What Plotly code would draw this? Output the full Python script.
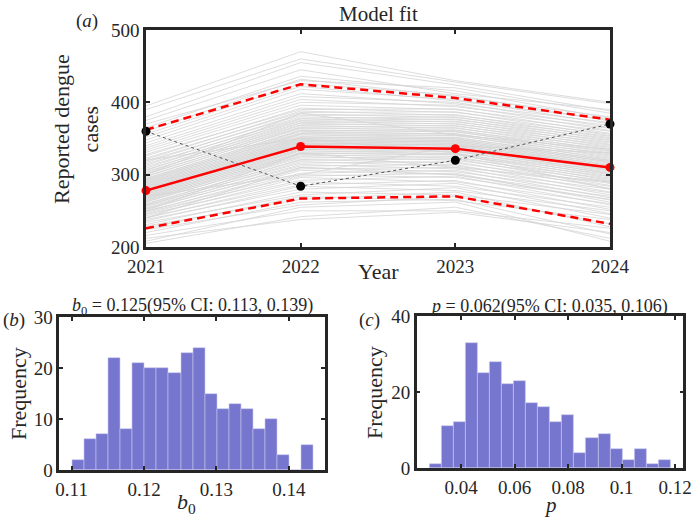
import plotly.graph_objects as go

# ---------------- data ----------------
years = [2021, 2022, 2023, 2024]
observed = [360, 284, 320, 370]
fit_mean = [278, 339, 336, 310]
fit_upper = [362, 425, 406, 376]
fit_lower = [226, 267, 270, 232]

# sample trajectories (grey)
traj_2021 = [205, 212, 208, 216, 220, 224, 226, 229, 231, 234, 236, 238, 240, 241, 243, 245, 246, 248, 249, 250,
             252, 253, 254, 256, 257, 258, 259, 260, 262, 263, 264, 265, 266, 267, 268, 269, 270, 271, 272, 273,
             274, 275, 276, 277, 278, 279, 280, 281, 282, 283, 284, 285, 286, 287, 288, 289, 290, 291, 292, 293,
             294, 295, 297, 298, 300, 301, 303, 304, 306, 307, 309, 311, 313, 315, 317, 319, 321, 323, 326, 328,
             331, 334, 337, 340, 344, 348, 352, 356, 360, 365, 370, 375, 380, 390, 395, 250, 270, 300, 320, 240]
traj_2022 = [242, 238, 255, 250, 262, 258, 270, 266, 276, 272, 284, 280, 290, 286, 296, 292, 300, 298, 306, 302,
             310, 308, 314, 312, 318, 316, 321, 320, 325, 323, 328, 326, 330, 329, 333, 331, 335, 334, 338, 336,
             340, 339, 342, 341, 344, 343, 346, 345, 348, 347, 350, 349, 352, 351, 355, 353, 357, 356, 360, 358,
             362, 361, 365, 364, 368, 366, 371, 369, 374, 372, 377, 375, 380, 378, 384, 382, 388, 386, 392, 390,
             396, 400, 404, 408, 412, 418, 422, 426, 432, 436, 430, 445, 455, 460, 470, 330, 300, 385, 350, 310]
traj_2023 = [255, 248, 262, 250, 266, 270, 264, 276, 272, 282, 278, 288, 284, 292, 290, 298, 296, 302, 300, 306,
             304, 310, 308, 314, 312, 318, 316, 322, 320, 325, 323, 328, 327, 330, 329, 333, 332, 336, 334, 338,
             337, 340, 339, 342, 341, 344, 343, 346, 345, 348, 347, 350, 349, 352, 351, 355, 354, 357, 356, 360,
             359, 362, 361, 365, 364, 368, 367, 371, 370, 374, 373, 377, 376, 380, 379, 383, 382, 387, 386, 391,
             390, 396, 394, 400, 398, 404, 402, 410, 408, 416, 420, 412, 424, 428, 430, 310, 340, 355, 330, 300]
traj_2024 = [212, 220, 208, 226, 218, 232, 238, 228, 245, 240, 250, 246, 255, 252, 260, 258, 266, 262, 270, 268,
             275, 272, 280, 276, 284, 281, 288, 285, 291, 289, 294, 292, 297, 295, 300, 298, 302, 301, 305, 303,
             307, 306, 309, 308, 311, 310, 313, 312, 316, 314, 318, 317, 320, 319, 323, 321, 326, 324, 329, 327,
             332, 330, 335, 333, 338, 336, 341, 339, 344, 342, 347, 345, 350, 348, 353, 351, 356, 354, 360, 357,
             364, 361, 368, 365, 372, 370, 376, 374, 380, 378, 385, 390, 388, 398, 400, 290, 330, 335, 280, 265]

# histogram (b): b0
b0_bin_start = 0.1101
b0_bin_width = 0.001665
b0_counts = [2, 6, 7, 22, 8, 21, 20, 20, 19, 23, 24, 15, 12, 13, 12, 8, 10, 3, 0, 5]
b0_ticks = [0.11, 0.12, 0.13, 0.14]
b0_ticklabels = ["0.11", "0.12", "0.13", "0.14"]

# histogram (c): p
p_bin_start = 0.02815
p_bin_width = 0.00451
p_counts = [1, 11, 12, 33, 25, 28, 22, 23, 17, 16, 12, 14, 4, 8, 9, 5, 2, 5, 1, 2]
p_ticks = [0.04, 0.06, 0.08, 0.1, 0.12]
p_ticklabels = ["0.04", "0.06", "0.08", "0.1", "0.12"]

# ---------------- figure ----------------
W, H = 699, 518
FONT = "Liberation Serif"
AX = "#262626"
BAR = "#7676cf"

fig = go.Figure()

# grey trajectories
for i in range(len(traj_2021)):
    fig.add_trace(go.Scatter(
        x=years, y=[traj_2021[i], traj_2022[i], traj_2023[i], traj_2024[i]],
        mode="lines", line=dict(color="#d4d4d4", width=0.8),
        hoverinfo="skip", showlegend=False, xaxis="x", yaxis="y"))

# confidence bounds
for band in (fit_upper, fit_lower):
    fig.add_trace(go.Scatter(
        x=years, y=band, mode="lines",
        line=dict(color="#ff0000", width=2.5, dash="8px,5px"),
        showlegend=False, xaxis="x", yaxis="y", cliponaxis=False))

# mean fit
fig.add_trace(go.Scatter(
    x=years, y=fit_mean, mode="lines+markers",
    line=dict(color="#ff0000", width=2.5),
    marker=dict(color="#ff0000", size=9),
    showlegend=False, xaxis="x", yaxis="y", cliponaxis=False))

# observed data
fig.add_trace(go.Scatter(
    x=years, y=observed, mode="lines+markers",
    line=dict(color="#555555", width=1, dash="dot"),
    marker=dict(color="#000000", size=9),
    showlegend=False, xaxis="x", yaxis="y", cliponaxis=False))

# histograms
b0_centers = [b0_bin_start + (i + 0.5) * b0_bin_width for i in range(len(b0_counts))]
p_centers = [p_bin_start + (i + 0.5) * p_bin_width for i in range(len(p_counts))]

fig.add_trace(go.Bar(
    x=b0_centers, y=b0_counts, width=b0_bin_width,
    marker=dict(color=BAR, line=dict(color="#c9c9ee", width=0.6)),
    showlegend=False, xaxis="x2", yaxis="y2"))
fig.add_trace(go.Bar(
    x=p_centers, y=p_counts, width=p_bin_width,
    marker=dict(color=BAR, line=dict(color="#c9c9ee", width=0.6)),
    showlegend=False, xaxis="x3", yaxis="y3"))

axis_common = dict(
    showline=True, linecolor=AX, linewidth=2.5, mirror="ticks",
    ticks="inside", ticklen=4, tickwidth=2, tickcolor=AX,
    showgrid=False, zeroline=False, automargin=False,
    tickfont=dict(family=FONT, size=19, color="#262626"),
)

def px_x(p):
    return p / W

def px_y(p):
    return 1 - p / H

fig.update_layout(
    width=W, height=H,
    margin=dict(l=0, r=0, t=0, b=0, pad=0),
    paper_bgcolor="white", plot_bgcolor="white",
    font=dict(family=FONT, color="#262626"),
    bargap=0,
    xaxis=dict(axis_common, domain=[px_x(146), px_x(610)], range=[2021, 2024],
               tickvals=years, ticktext=[str(y) for y in years], anchor="y"),
    yaxis=dict(axis_common, domain=[px_y(247), px_y(30)], range=[200, 500],
               tickvals=[200, 300, 400, 500], anchor="x"),
    xaxis2=dict(axis_common, domain=[px_x(59.3), px_x(325)], range=[0.1083, 0.1450],
                tickvals=b0_ticks, ticktext=b0_ticklabels, anchor="y2"),
    yaxis2=dict(axis_common, domain=[px_y(470), px_y(317)], range=[0, 30],
                tickvals=[0, 10, 20, 30], anchor="x2"),
    xaxis3=dict(axis_common, domain=[px_x(416.7), px_x(683.3)], range=[0.0234, 0.1231],
                tickvals=p_ticks, ticktext=p_ticklabels, anchor="y3"),
    yaxis3=dict(axis_common, domain=[px_y(468), px_y(316)], range=[0, 40],
                tickvals=[0, 20, 40], anchor="x3"),
)

def ann(text, x, y, size, angle=0):
    fig.add_annotation(text=text, x=px_x(x), y=px_y(y), xref="paper", yref="paper",
                       showarrow=False, xanchor="center", yanchor="middle",
                       textangle=angle, font=dict(family=FONT, size=size, color="#262626"))

ann("Model fit", 378, 14, 21)
ann("(<i>a</i>)", 87, 21, 19)
ann("Reported dengue<br>cases", 76, 129, 22, -90)
ann("Year", 378, 271, 22)

ann("<i>b</i><sub>0</sub> = 0.125(95% CI: 0.113, 0.139)", 192, 306, 18)
ann("(<i>b</i>)", 14, 320, 19)
ann("Frequency", 18, 394, 22, -90)
ann("<i>b</i><sub>0</sub>", 186, 503, 22)

ann("<i>p</i> = 0.062(95% CI: 0.035, 0.106)", 549, 306, 18)
ann("(<i>c</i>)", 369, 320, 19)
ann("Frequency", 374, 393, 22, -90)
ann("<i>p</i>", 550, 505, 21)

fig.write_html("out.html")
